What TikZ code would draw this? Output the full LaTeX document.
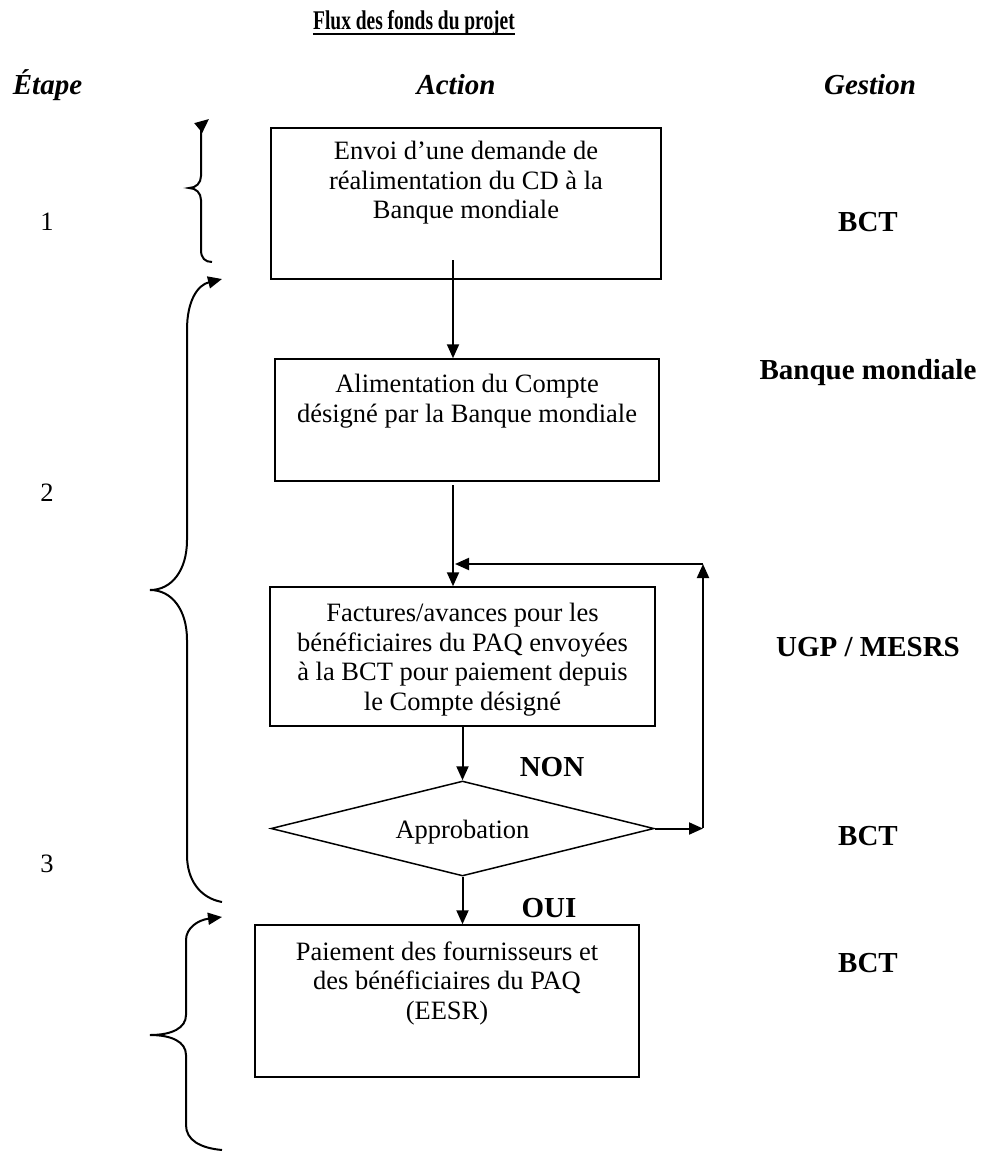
\documentclass[tikz,border=0pt]{standalone}
\usepackage{fontspec}
\setmainfont{Liberation Serif}
\usetikzlibrary{shapes.geometric,arrows.meta}
\tikzset{
  box/.style={draw, line width=1.5pt, inner sep=0pt},
  txt/.style={font=\fontsize{26.5pt}{29.5pt}\selectfont, align=center, inner sep=0pt},
  lbl/.style={font=\fontsize{29pt}{33pt}\selectfont\bfseries, inner sep=0pt},
  hdr/.style={font=\fontsize{29pt}{33pt}\selectfont\bfseries\itshape, inner sep=0pt, anchor=base},
  arr/.style={line width=2pt, -{Triangle[length=14pt,width=12pt]}},
  bracearr/.style={line width=2pt, -{Triangle[length=14pt,width=12pt]}},
}
\begin{document}
\begin{tikzpicture}[x=1pt,y=-1pt]
\useasboundingbox (0,0) rectangle (980,1153);

% title and headers
\node[font=\fontsize{27pt}{30pt}\selectfont\bfseries, inner sep=0pt, anchor=base] (title) at (414,30) {\scalebox{0.72}[1]{Flux des fonds du projet}};
\draw[line width=2.5pt] ([yshift=-4pt]title.base west) -- ([yshift=-4pt]title.base east);
\node[hdr] (hEtape) at (47.5,95) {Étape};
\node[hdr] (hAction) at (456,95) {Action};
\node[hdr] (hGestion) at (870,95) {Gestion};

% boxes
\node[box, minimum width=390pt, minimum height=151pt] (b1) at (466,203.5) {};
\node[txt, anchor=north] (t1) at ([yshift=-14pt]b1.north) {Envoi d’une demande de\\réalimentation du CD à la\\Banque mondiale};

\node[box, minimum width=384pt, minimum height=122pt] (b2) at (467,420) {};
\node[txt, anchor=north] (t2) at ([yshift=-16pt]b2.north) {Alimentation du Compte\\désigné par la Banque mondiale};

\node[box, minimum width=385pt, minimum height=139pt] (b3) at (462.5,656.5) {};
\node[txt, anchor=north] (t3) at ([yshift=-17pt]b3.north) {Factures/avances pour les\\bénéficiaires du PAQ envoyées\\à la BCT pour paiement depuis\\le Compte désigné};

\node[box, shape=diamond, aspect=4, minimum width=383pt, minimum height=95pt, text height=25pt, text depth=6pt, font=\fontsize{26.5pt}{29.5pt}\selectfont] (d) at (462.5,828.5) {Approbation};

\node[box, minimum width=384pt, minimum height=152pt] (b4) at (447,1001) {};
\node[txt, anchor=north] (t4) at ([yshift=-17pt]b4.north) {Paiement des fournisseurs et\\des bénéficiaires du PAQ\\(EESR)};

% connectors
\coordinate (a1) at (453,260);
\draw[arr] (a1) -- (a1 |- b2.north);
\coordinate (a2) at (453,485);
\draw[arr] (a2) -- (a2 |- b3.north);
\coordinate (a3) at (462.5,725);
\draw[arr] (a3) -- (d.north);
\draw[arr] (d.south) -- (d.south |- b4.north);
\coordinate (c1) at (703,828.5);
\coordinate (c2) at (703,564);
\coordinate (c3) at (455,564);
\draw[arr] (d.east) -- (c1);
\draw[arr] ([yshift=1pt]c1) -- (c2);
\draw[arr] (c2) -- (c3);

\node[lbl] (non) at (552,767) {NON};
\node[lbl] (oui) at (549,908) {OUI};

% right labels
\node[lbl] (g1) at (868,222) {BCT};
\node[lbl] (g2) at (868,373) {Banque mondiale};
\node[lbl] (g3) at (868,647) {UGP / MESRS};
\node[lbl] (g4) at (868,836) {BCT};
\node[lbl] (g5) at (868,963) {BCT};

% step numbers
\node[txt] (s1) at (47,222) {1};
\node[txt] (s2) at (47,493) {2};
\node[txt] (s3) at (47,864) {3};

% braces
\draw[bracearr] (212,262) .. controls (205,262) and (201,258) .. (201,250) -- (201,200)
  .. controls (201,193) and (196,188) .. (189,188)
  .. controls (196,188) and (201,183) .. (201,176) -- (201,134)
  .. controls (201,128) and (203,124) .. (209,119);
\draw[bracearr] (222,902) .. controls (200,898) and (187,880) .. (187,855) -- (187,640)
  .. controls (187,610) and (172,590) .. (150,590)
  .. controls (172,590) and (187,570) .. (187,540) -- (187,330)
  .. controls (187,300) and (198,285) .. (222,279);
\draw[bracearr] (222,1150) .. controls (200,1148) and (186,1140) .. (186,1125) -- (186,1055)
  .. controls (186,1042) and (172,1035) .. (150,1035)
  .. controls (172,1035) and (186,1028) .. (186,1015) -- (186,940)
  .. controls (186,928) and (198,920) .. (222,917);
\end{tikzpicture}
\end{document}
